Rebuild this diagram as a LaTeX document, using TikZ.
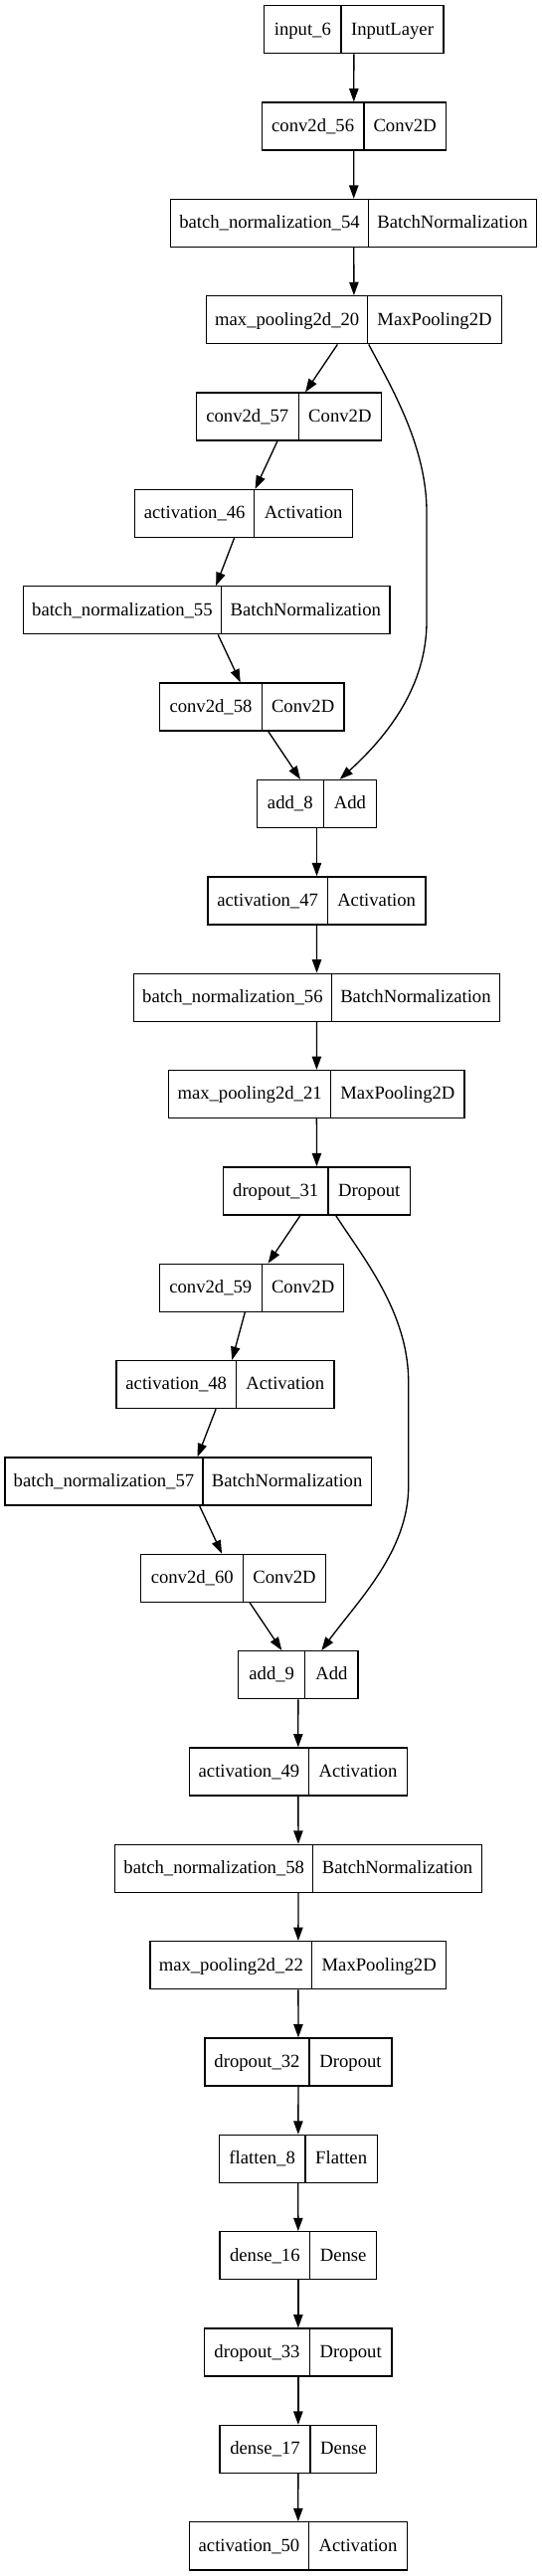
\documentclass[tikz,border=0pt]{standalone}
\usepackage{fontspec}
\setmainfont{Liberation Serif}
\usetikzlibrary{arrows.meta,calc}
\tikzset{
  box/.style={draw=black, line width=1pt, rectangle, inner sep=0pt, minimum height=36pt},
  lbl/.style={anchor=base, inner sep=0pt, font=\fontsize{14}{16}\selectfont},
  divline/.style={draw=black, line width=1pt},
  edge/.style={draw=black, line width=1pt, -{Triangle[length=10pt,width=7pt]}},
}
\newcommand\layer[7]{%
  \pgfmathsetmacro\ly{5.7+97.35*#5+24}%
  \pgfmathsetmacro\lw{(#4-#2)*0.75}%
  \pgfmathsetmacro\lcx{(#2+#4)/2}%
  \pgfmathsetmacro\lxa{(#2+#3)/2}%
  \pgfmathsetmacro\lxb{(#3+#4)/2}%
  \node[box, minimum width=\lw pt] (#1) at (\lcx,\ly) {};
  \draw[divline] (#3,\ly-24) -- (#3,\ly+24);
  \node[lbl] at (\lxa,\ly+5.3) {#6};
  \node[lbl] at (\lxb,\ly+5.3) {#7};
}
\begin{document}
\begin{tikzpicture}[x=0.75pt,y=-0.75pt]
\useasboundingbox (0,0) rectangle (545,2591);
\layer{in6}{265.7}{343}{446}{0}{input\_6}{InputLayer}
\layer{c56}{263.3}{366}{448.3}{1}{conv2d\_56}{Conv2D}
\layer{bn54}{171.7}{370.3}{539.7}{2}{batch\_normalization\_54}{BatchNormalization}
\layer{mp20}{207.7}{369.7}{504.3}{3}{max\_pooling2d\_20}{MaxPooling2D}
\layer{c57}{197.4}{300.3}{383.4}{4}{conv2d\_57}{Conv2D}
\layer{a46}{135.6}{255.8}{354.5}{5}{activation\_46}{Activation}
\layer{bn55}{23.3}{222.5}{392.1}{6}{batch\_normalization\_55}{BatchNormalization}
\layer{c58}{160.7}{263.3}{346}{7}{conv2d\_58}{Conv2D}
\layer{add8}{258.3}{325.3}{378.7}{8}{add\_8}{Add}
\layer{a47}{209}{329.3}{428}{9}{activation\_47}{Activation}
\layer{bn56}{134.5}{333.3}{502.6}{10}{batch\_normalization\_56}{BatchNormalization}
\layer{mp21}{169.6}{332.6}{467.1}{11}{max\_pooling2d\_21}{MaxPooling2D}
\layer{d31}{224.5}{329.9}{412.6}{12}{dropout\_31}{Dropout}
\layer{c59}{160.2}{263.5}{345.8}{13}{conv2d\_59}{Conv2D}
\layer{a48}{117.1}{237.4}{336.1}{14}{activation\_48}{Activation}
\layer{bn57}{4.9}{204}{373.3}{15}{batch\_normalization\_57}{BatchNormalization}
\layer{c60}{141.8}{244.7}{327.4}{16}{conv2d\_60}{Conv2D}
\layer{add9}{239.7}{306.7}{360}{17}{add\_9}{Add}
\layer{a49}{190.3}{310.7}{409.3}{18}{activation\_49}{Activation}
\layer{bn58}{115.7}{314.7}{484.3}{19}{batch\_normalization\_58}{BatchNormalization}
\layer{mp22}{151}{313.7}{448.7}{20}{max\_pooling2d\_22}{MaxPooling2D}
\layer{d32}{206}{311}{394}{21}{dropout\_32}{Dropout}
\layer{f8}{220.3}{307}{379.3}{22}{flatten\_8}{Flatten}
\layer{de16}{221}{311.7}{378.7}{23}{dense\_16}{Dense}
\layer{d33}{205.7}{311.3}{394}{24}{dropout\_33}{Dropout}
\layer{de17}{221}{312}{378.7}{25}{dense\_17}{Dense}
\layer{a50}{190.3}{310.7}{409.3}{26}{activation\_50}{Activation}

\foreach \a/\b in {in6/c56,c56/bn54,bn54/mp20,mp20/c57,c57/a46,a46/bn55,bn55/c58,c58/add8,
  add8/a47,a47/bn56,bn56/mp21,mp21/d31,d31/c59,c59/a48,a48/bn57,bn57/c60,c60/add9,
  add9/a49,a49/bn58,bn58/mp22,mp22/d32,d32/f8,f8/de16,de16/d33,d33/de17,de17/a50}
  \draw[edge] (\a) -- (\b);

% skip connections
\coordinate (s1) at ($(mp20.south)+(14.7,0)$);
\coordinate (e1) at ($(add8.north)+(23.2,0)$);
\draw[edge] (s1) .. controls (395,392) and (429,450) .. (429,515)
  -- (429,625) .. controls (429,690) and (390,740) .. (e1);
\coordinate (s2) at ($(d31.south)+(19.15,0)$);
\coordinate (e2) at ($(add9.north)+(23.45,0)$);
\draw[edge] (s2) .. controls (365,1265) and (410.7,1320) .. (410.7,1390)
  -- (410.7,1495) .. controls (410.7,1560) and (360,1610) .. (e2);
\end{tikzpicture}
\end{document}
